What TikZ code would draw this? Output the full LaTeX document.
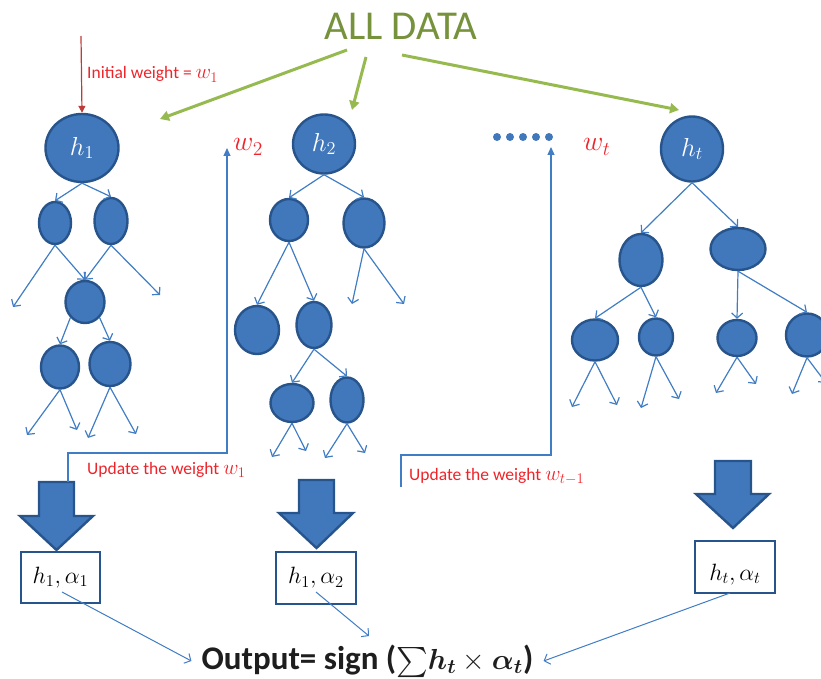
\RequirePackage{fix-cm}
\documentclass[tikz,border=0pt]{standalone}
\usepackage{amsmath}
\usepackage{bm}
\usepackage{graphicx}
\usepackage{fontspec}
\setmainfont{Carlito}
\usetikzlibrary{arrows.meta,shapes.geometric}

\definecolor{nodefill}{RGB}{65,120,188}
\definecolor{nodeedge}{RGB}{40,84,140}
\definecolor{linkblue}{RGB}{64,125,196}
\definecolor{wred}{RGB}{238,36,42}
\definecolor{initred}{RGB}{190,60,55}
\definecolor{titlegreen}{RGB}{118,146,60}
\definecolor{feedgreen}{RGB}{150,186,80}
\definecolor{outtext}{RGB}{30,30,30}

\newcommand\pxfont[1]{\fontsize{#1}{#1}\selectfont}
% math set at 20pt and then scaled to the wanted size
\newcommand\smath[2]{{\pxfont{20}\scalebox{#1}{$#2$}}}

\tikzset{
  tnode/.style={ellipse, draw=nodeedge, fill=nodefill, line width=2.4pt,
                inner sep=0pt, text=white},
  link/.style={draw=linkblue, line width=1.2pt,
               -{Straight Barb[length=5pt,width=11pt]}},
  feed/.style={draw=feedgreen, line width=3pt,
               -{Triangle[length=9pt,width=10pt]}},
  initarrow/.style={draw=initred, line width=1.2pt,
                    -{Triangle[length=7pt,width=7pt]}},
  update/.style={draw=linkblue, line width=1.2pt,
                 -{Triangle[length=8pt,width=7pt]}},
  bigarrow/.style={draw=nodeedge, fill=nodefill, line width=2.4pt, line join=miter},
  resultbox/.style={draw=nodeedge, line width=2.4pt, fill=white, inner sep=0pt},
  redlabel/.style={text=wred, inner sep=0pt, font=\pxfont{17.5}},
  weightlabel/.style={text=wred, inner sep=0pt},
}

\begin{document}
\begin{tikzpicture}[x=1pt,y=-1pt]
\useasboundingbox (0,0) rectangle (821,679);

% title and data feeds
\node[text=titlegreen, font=\pxfont{41}, inner sep=0pt] (data) at (401,26.5) {ALL DATA};
\coordinate (f1s) at (347,50);  \coordinate (f1e) at (160,119);
\coordinate (f2s) at (366,57);  \coordinate (f2e) at (352,110);
\coordinate (f3s) at (402,55);  \coordinate (f3e) at (679,110);
\draw[feed] (f1s) -- (f1e);
\draw[feed] (f2s) -- (f2e);
\draw[feed] (f3s) -- (f3e);

% ---------- tree 1 ----------
\node[tnode, minimum width=73pt, minimum height=68pt] (h1) at (82,148) {\smath{1.3}{h_1}};
\node[tnode, minimum width=32pt, minimum height=42pt] (L1) at (55,223) {};
\node[tnode, minimum width=33pt, minimum height=46pt] (R1) at (111,221) {};
\node[tnode, minimum width=39pt, minimum height=42pt] (M1) at (85,302) {};
\node[tnode, minimum width=38pt, minimum height=43pt] (LL1) at (60,367) {};
\node[tnode, minimum width=41pt, minimum height=44pt] (LR1) at (110,364) {};
\coordinate (l1a) at (13,307);
\coordinate (r1a) at (160,295);
\coordinate (ll1a) at (27,435);  \coordinate (ll1b) at (77,430);
\coordinate (lr1a) at (88,438);  \coordinate (lr1b) at (136,434);
\draw[link] (h1.south) -- (L1.north);
\draw[link] (h1.south) -- (R1.north);
\draw[link] (L1.south) -- (l1a);
\draw[link] (L1.south) -- (M1.north);
\draw[link] (R1.south) -- (M1.north);
\draw[link] (R1.south) -- (r1a);
\draw[link] (M1.south west) -- (LL1.north);
\draw[link] (M1.south east) -- (LR1.north);
\draw[link] (LL1.south) -- (ll1a);
\draw[link] (LL1.south) -- (ll1b);
\draw[link] (LR1.south) -- (lr1a);
\draw[link] (LR1.south) -- (lr1b);

% ---------- tree 2 ----------
\node[tnode, minimum width=62pt, minimum height=59pt] (h2) at (324,144) {\smath{1.3}{h_2}};
\node[tnode, minimum width=38pt, minimum height=42pt] (A2) at (289,220) {};
\node[tnode, minimum width=41pt, minimum height=49pt] (B2) at (364,223) {};
\node[tnode, minimum width=44pt, minimum height=48pt] (C2) at (257,330) {};
\node[tnode, minimum width=35pt, minimum height=46pt] (D2) at (314,325) {};
\node[tnode, minimum width=43pt, minimum height=38pt] (E2) at (292,403) {};
\node[tnode, minimum width=33pt, minimum height=45pt] (F2) at (347,400) {};
\coordinate (b2a) at (352,304);  \coordinate (b2b) at (404,304);
\coordinate (e2a) at (272,457);  \coordinate (e2b) at (306,451);
\coordinate (f2a) at (325,458);  \coordinate (f2b) at (365,453);
\draw[link] (h2.south) -- (A2.north);
\draw[link] (h2.south) -- (B2.north);
\draw[link] (A2.south) -- (C2.north);
\draw[link] (A2.south) -- (D2.north);
\draw[link] (B2.south) -- (b2a);
\draw[link] (B2.south) -- (b2b);
\draw[link] (D2.south) -- (E2.north);
\draw[link] (D2.south) -- (F2.north);
\draw[link] (E2.south) -- (e2a);
\draw[link] (E2.south) -- (e2b);
\draw[link] (F2.south) -- (f2a);
\draw[link] (F2.south) -- (f2b);

% ---------- tree t ----------
\node[tnode, minimum width=62pt, minimum height=65pt] (ht) at (692,149) {\smath{1.3}{h_t}};
\node[tnode, minimum width=43pt, minimum height=52pt] (G3) at (641,260) {};
\node[tnode, minimum width=55pt, minimum height=42pt] (H3) at (738,249) {};
\node[tnode, minimum width=46pt, minimum height=41pt] (I3) at (595,340) {};
\node[tnode, minimum width=34pt, minimum height=37pt] (J3) at (656,337) {};
\node[tnode, minimum width=39pt, minimum height=36pt] (K3) at (737,338) {};
\node[tnode, minimum width=42pt, minimum height=43pt] (L3) at (807,335) {};
\coordinate (i3a) at (572,407);  \coordinate (i3b) at (617,405);
\coordinate (j3a) at (641,408);  \coordinate (j3b) at (679,399);
\coordinate (k3a) at (716,393);  \coordinate (k3b) at (756,384);
\coordinate (l3a) at (792,394);  \coordinate (l3b) at (826,383);
\draw[link] (ht.south) -- (G3.north);
\draw[link] (ht.south) -- (H3.north);
\draw[link] (G3.south) -- (I3.north);
\draw[link] (G3.south) -- (J3.north);
\draw[link] (H3.south) -- (K3.north);
\draw[link] (H3.south) -- (L3.north);
\draw[link] (I3.south) -- (i3a);
\draw[link] (I3.south) -- (i3b);
\draw[link] (J3.south) -- (j3a);
\draw[link] (J3.south) -- (j3b);
\draw[link] (K3.south) -- (k3a);
\draw[link] (K3.south) -- (k3b);
\draw[link] (L3.south) -- (l3a);
\draw[link] (L3.south) -- (l3b);

% ---------- initial weight ----------
\coordinate (initsrc) at (81,36);
\draw[initarrow] (initsrc) -- (h1.north);
\node[redlabel, anchor=base west] (initlbl) at (87,79) {Initial weight = \smath{1.05}{w_1}};

% ---------- block arrows ----------
\draw[bigarrow] (39,482) -- (74,482) -- (74,516) -- (93,516) -- (56.5,550)
  -- (20,516) -- (39,516) -- cycle;
\draw[bigarrow] (299,480) -- (334,480) -- (334,513) -- (353,513) -- (316.5,548)
  -- (279,513) -- (299,513) -- cycle;
\draw[bigarrow] (715,461) -- (751,461) -- (751,494) -- (769,494) -- (733,528)
  -- (696,494) -- (715,494) -- cycle;

% ---------- weight updates ----------
\coordinate (up1) at (68,482);
\coordinate (w2tip) at (227,148);
\draw[update] (up1) -- (68,453) -| (w2tip);
\node[weightlabel, anchor=base west] (w2) at (233,151) {\smath{1.4}{w_2}};
\node[redlabel, anchor=base west] (upd1) at (87,474) {Update the weight \smath{1.05}{w_1}};

\coordinate (up2) at (401,487);
\coordinate (wttip) at (551,147);
\draw[update] (up2) -- (401,455) -| (wttip);
\node[weightlabel, anchor=base west] (wt) at (583,151) {\smath{1.4}{w_t}};
\node[redlabel, anchor=base west] (upd2) at (409,480) {Update the weight \smath{1.05}{w_{t-1}}};

% ellipsis dots
\foreach \dx in {497,510,523,536,549}
  \fill[nodefill] (\dx,137) circle (4pt);

% ---------- weighted hypotheses ----------
\node[resultbox, minimum width=79pt, minimum height=51pt] (b1) at (60.5,577.5) {\smath{1.18}{h_1,\alpha_1}};
\node[resultbox, minimum width=80pt, minimum height=52pt] (b2) at (316,578) {\smath{1.18}{h_1,\alpha_2}};
\node[resultbox, minimum width=80pt, minimum height=52pt, text height=30pt, text depth=4pt]
  (b3) at (735,567) {\smath{1.18}{h_t,\alpha_t}};

% ---------- final vote ----------
\node[text=outtext, font=\bfseries\pxfont{33}, inner sep=10pt] (out) at (367.5,661)
  {Output= sign (\smath{1.45}{\mathord{\textstyle\sum}\bm{h_t}\times\bm{\alpha_t}})};
\coordinate (o1s) at (62,592);
\coordinate (o2s) at (316,592);  \coordinate (o2e) at (369,636);
\coordinate (o3s) at (730,593);
\draw[link, line width=1pt] (o1s) -- (out.west);
\draw[link, line width=1pt] (o2s) -- (o2e);
\draw[link, line width=1pt] (o3s) -- (out.east);
\end{tikzpicture}
\end{document}
